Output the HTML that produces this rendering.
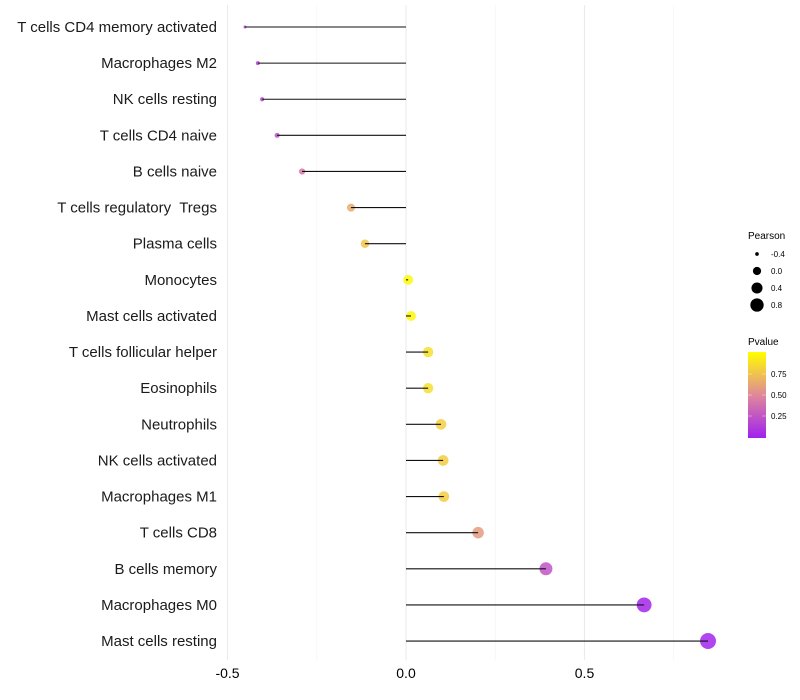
<!DOCTYPE html>
<html><head><meta charset="utf-8"><style>
body{margin:0;background:#fff;}
svg{display:block;font-family:"Liberation Sans",sans-serif;}
text{white-space:pre;}
</style></head><body>
<svg id="c" width="800" height="700">
<defs><linearGradient id="pg" x1="0" y1="1" x2="0" y2="0">
<stop offset="0" stop-color="#a020f0"/><stop offset="0.5" stop-color="#e0889a"/><stop offset="1" stop-color="#ffff00"/>
</linearGradient></defs>
<g id="grid"></g><g id="marks"></g><g id="labels"></g><g id="legend"></g>
</svg>
<script>
const categories=["T cells CD4 memory activated","Macrophages M2","NK cells resting","T cells CD4 naive","B cells naive","T cells regulatory  Tregs","Plasma cells","Monocytes","Mast cells activated","T cells follicular helper","Eosinophils","Neutrophils","NK cells activated","Macrophages M1","T cells CD8","B cells memory","Macrophages M0","Mast cells resting"];
const pearson=[-0.451,-0.415,-0.403,-0.361,-0.291,-0.154,-0.115,0.006,0.014,0.062,0.062,0.098,0.104,0.106,0.202,0.392,0.667,0.846];
const pvalue=[0.12,0.15,0.17,0.22,0.42,0.65,0.75,0.98,0.97,0.86,0.86,0.8,0.79,0.79,0.58,0.25,0.03,0.02];
const xTicks=[-0.5,0,0.5];
const xTickLabels=["-0.5","0.0","0.5"];
const minorTicks=[-0.25,0.25,0.75];
const sizeLegend=[-0.4,0.0,0.4,0.8];
const colorTicks=[0.25,0.5,0.75];

const NS="http://www.w3.org/2000/svg";
const x=v=>406+v*357;
const y=i=>27+i*36.12;
const r=v=>Math.sqrt(Math.max(1,23.6+47.5*v));
function lerp(a,b,t){return a.map((c,k)=>Math.round(c+(b[k]-c)*t));}
function col(p){const A=[160,32,240],M=[224,136,154],B=[255,255,0];
 const c=p<0.5?lerp(A,M,p/0.5):lerp(M,B,(p-0.5)/0.5);return `rgb(${c.join(',')})`;}
function mk(tag,at,parent,txt){const e=document.createElementNS(NS,tag);for(const k in at)e.setAttribute(k,at[k]);if(txt!==undefined)e.textContent=txt;parent.appendChild(e);return e;}
const grid=document.getElementById('grid'),marks=document.getElementById('marks'),labels=document.getElementById('labels'),legend=document.getElementById('legend');
minorTicks.forEach(v=>{const l=mk('line',{x1:x(v),x2:x(v),y1:5,y2:660,stroke:'#f2f2f2','stroke-width':0.6},grid);

});
xTicks.forEach((v,i)=>{const l=mk('line',{x1:x(v),x2:x(v),y1:5,y2:660,stroke:'#ebebeb','stroke-width':1.1},grid);


const t=mk('text',{x:x(v),y:678,'text-anchor':'middle','font-size':14,fill:'#000'},labels,xTickLabels[i]);

});
categories.forEach((c,i)=>{
 const d=mk('circle',{cx:x(pearson[i]),cy:y(i),r:r(pearson[i]),fill:col(pvalue[i]),'fill-opacity':0.85},marks);
 
 
 const l=mk('line',{x1:x(0),x2:x(pearson[i]),y1:y(i),y2:y(i),stroke:'#111','stroke-width':1.1},marks);
 
 
 const t=mk('text',{x:217,y:y(i)+5,'text-anchor':'end','font-size':15,fill:'#1a1a1a'},labels,c);
 
 
});
let t=mk('text',{x:748,y:239,'font-size':10,fill:'#000'},legend,'Pearson');


sizeLegend.forEach((v,i)=>{const cy=254+i*17;
 const d=mk('circle',{cx:757,cy:cy,r:r(v)*0.85,fill:'#000'},legend);
 
 
 const tt=mk('text',{x:771,y:cy+3,'font-size':8,fill:'#000'},legend,v.toFixed(1));
 
 });
t=mk('text',{x:748,y:345,'font-size':10,fill:'#000'},legend,'Pvalue');


const bar=mk('rect',{x:748,y:352,width:18,height:86,fill:'url(#pg)'},legend);


colorTicks.forEach(v=>{const yy=437-v*84;
 mk('line',{x1:748,x2:752,y1:yy,y2:yy,stroke:'#fff','stroke-width':0.6,opacity:0.6},legend);
 mk('line',{x1:762,x2:766,y1:yy,y2:yy,stroke:'#fff','stroke-width':0.6,opacity:0.6},legend);
 const tt=mk('text',{x:771,y:yy+3,'font-size':8,fill:'#000'},legend,v.toFixed(2));
 
 });
</script>
</body></html>
